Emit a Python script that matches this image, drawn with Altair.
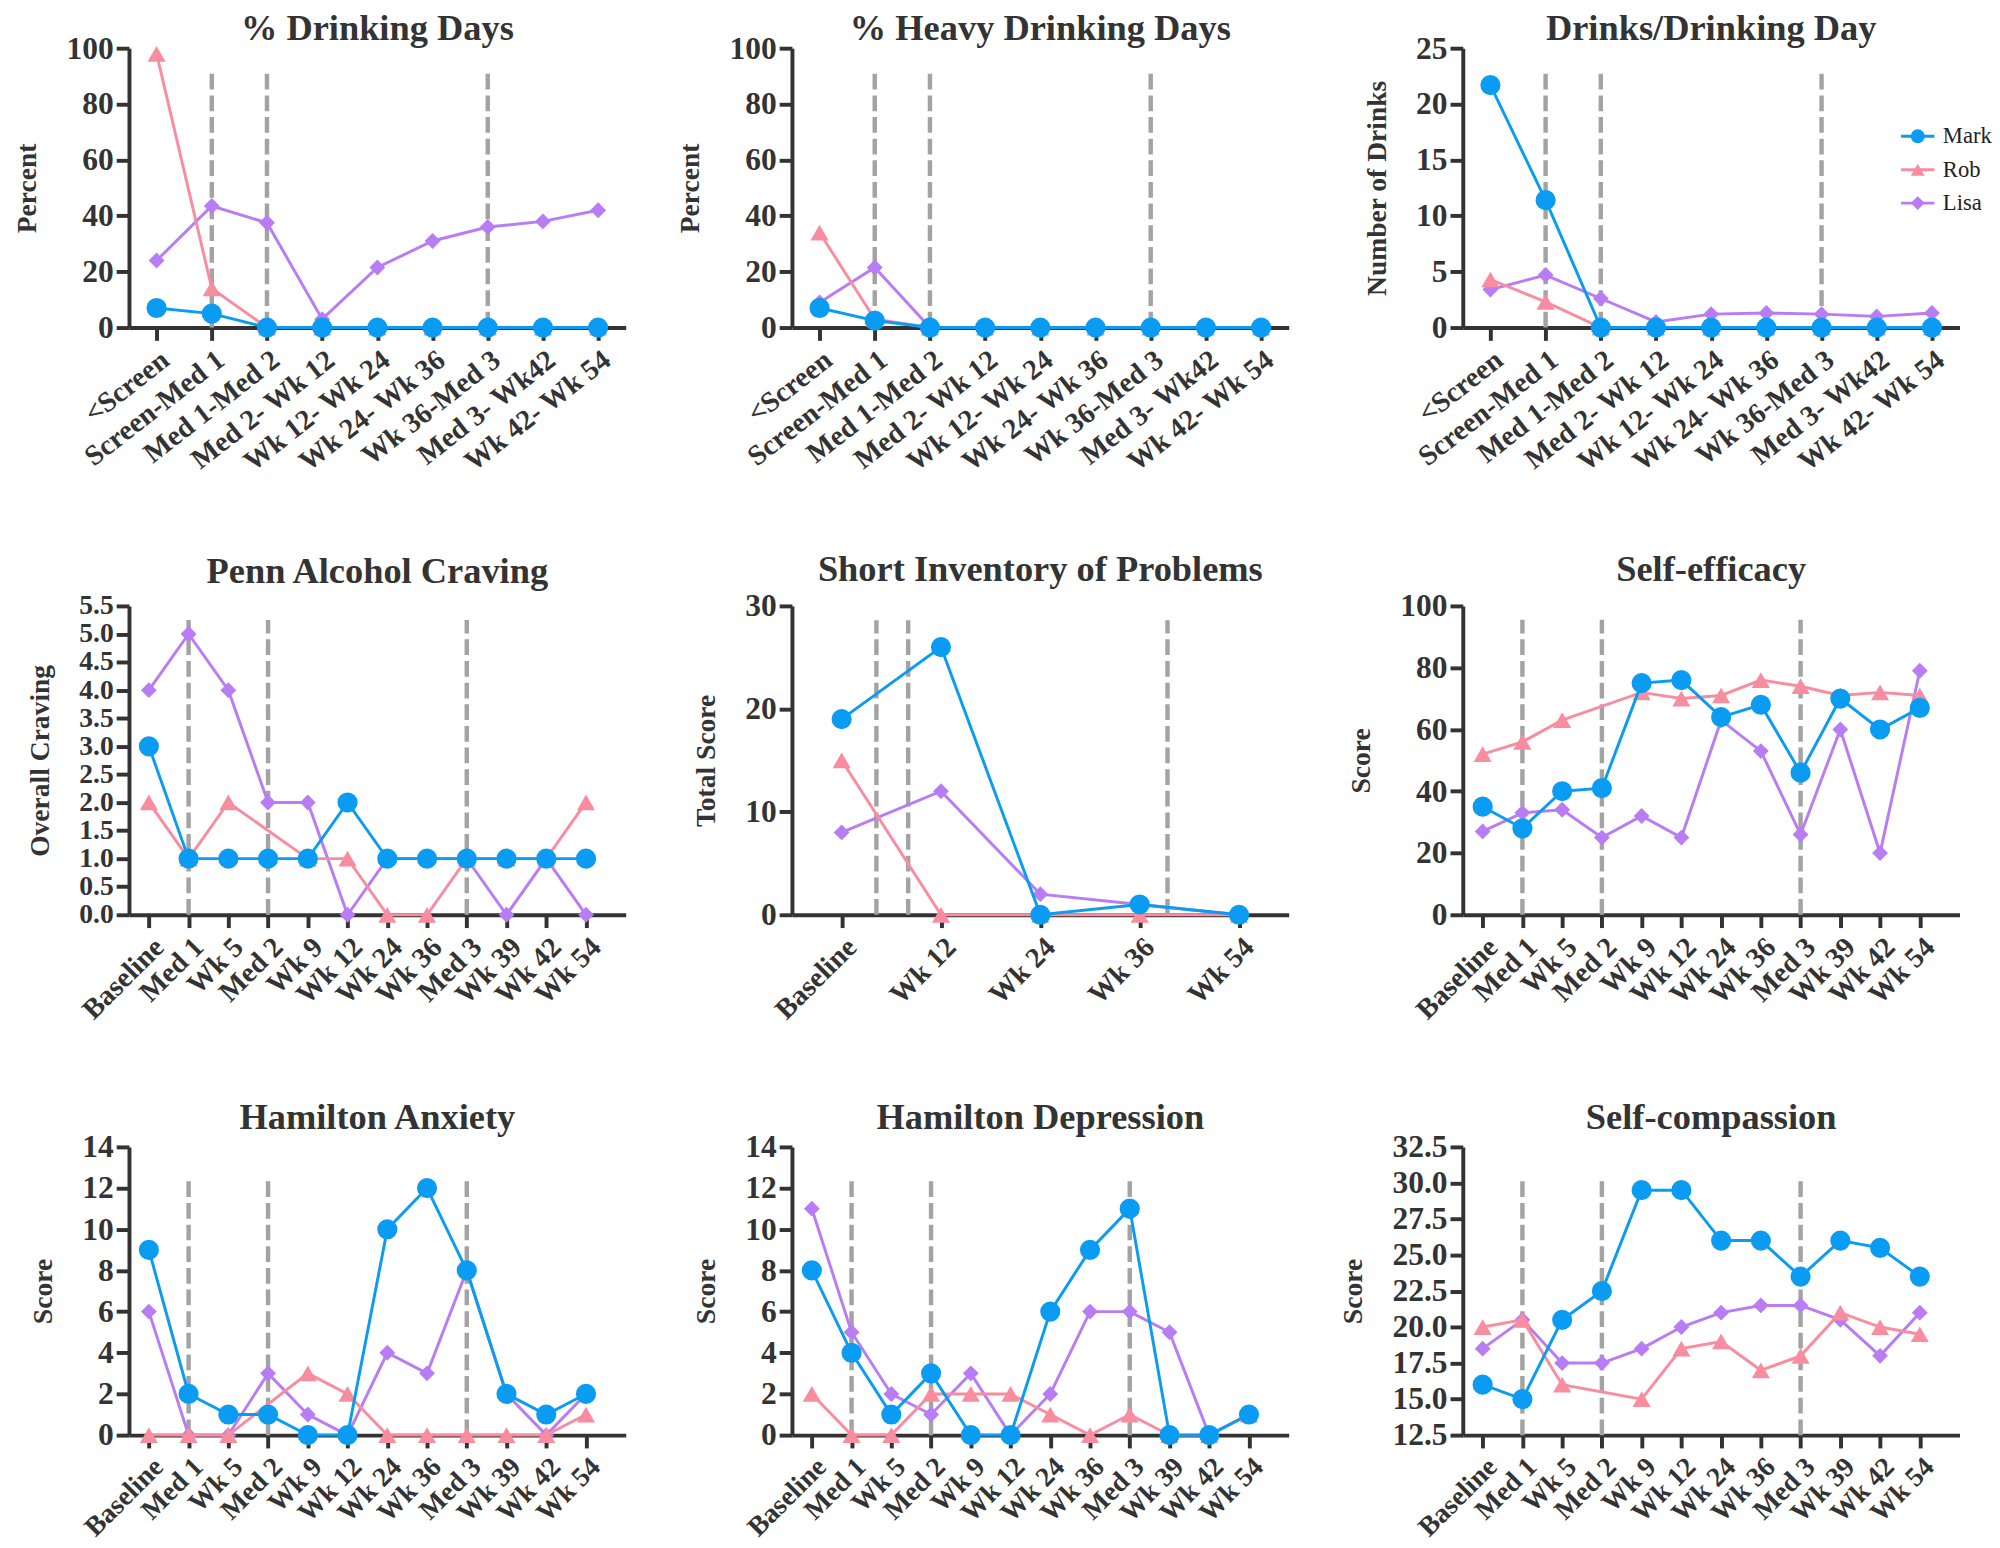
import altair as alt
import pandas as pd

FONT = "Liberation Serif"
TXT = "#333333"
DASH = "#a3a3a3"

names = ["Mark", "Rob", "Lisa"]
line_keys = ["Mark ", "Rob ", "Lisa "]
colors = ["#0a9cf2", "#f98da0", "#b87cf4"]
shapes = ["circle", "triangle-up", "diamond"]
sizes = [420, 340, 260]

cats_drink = ["<Screen", "Screen-Med 1", "Med 1-Med 2", "Med 2- Wk 12", "Wk 12- Wk 24",
              "Wk 24- Wk 36", "Wk 36-Med 3", "Med 3- Wk42", "Wk 42- Wk 54"]
cats_visit = ["Baseline", "Med 1", "Wk 5", "Med 2", "Wk 9", "Wk 12", "Wk 24", "Wk 36",
              "Med 3", "Wk 39", "Wk 42", "Wk 54"]
cats_sip = ["Baseline", "Wk 12", "Wk 24", "Wk 36", "Wk 54"]

# % Drinking Days
pdd_mark = [7, 5, 0, 0, 0, 0, 0, 0, 0]
pdd_rob = [98, 14, 0, 0, 0, 0, 0, 0, 0]
pdd_lisa = [24, 43.5, 37.5, 3, 21.5, 31, 36, 38, 42]
# % Heavy Drinking Days
phdd_mark = [7, 2.5, 0, 0, 0, 0, 0, 0, 0]
phdd_rob = [34, 3, 0, 0, 0, 0, 0, 0, 0]
phdd_lisa = [9, 21.5, 0, 0, 0, 0, 0, 0, 0]
# Drinks / Drinking Day
ddd_mark = [21.7, 11.4, 0, 0, 0, 0, 0, 0, 0]
ddd_rob = [4.3, 2.3, 0, 0, 0, 0, 0, 0, 0]
ddd_lisa = [3.4, 4.7, 2.6, 0.5, 1.2, 1.3, 1.2, 1.0, 1.3]
# Penn Alcohol Craving
pacs_mark = [3, 1, 1, 1, 1, 2, 1, 1, 1, 1, 1, 1]
pacs_rob = [2, 1, 2, None, 1, 1, 0, 0, 1, 1, 1, 2]
pacs_lisa = [4, 5, 4, 2, 2, 0, 1, 1, 1, 0, 1, 0]
# Short Inventory of Problems
sip_mark = [19, 26, 0, 1, 0]
sip_rob = [15, 0, 0, 0, 0]
sip_lisa = [8, 12, 2, 1, 0]
# Self-efficacy
se_mark = [35, 28, 40, 41, 75, 76, 64, 68, 46, 70, 60, 67]
se_rob = [52, 56, 63, None, 72, 70, 71, 76, 74, 71, 72, 71]
se_lisa = [27, 33, 34, 25, 32, 25, 63, 53, 26, 60, 20, 79]
# Hamilton Anxiety
hama_mark = [9, 2, 1, 1, 0, 0, 10, 12, 8, 2, 1, 2]
hama_rob = [0, 0, 0, None, 3, 2, 0, 0, 0, 0, 0, 1]
hama_lisa = [6, 0, 0, 3, 1, 0, 4, 3, 8, 2, 0, 2]
# Hamilton Depression
hamd_mark = [8, 4, 1, 3, 0, 0, 6, 9, 11, 0, 0, 1]
hamd_rob = [2, 0, 0, 2, 2, 2, 1, 0, 1, 0, 0, 1]
hamd_lisa = [11, 5, 2, 1, 3, 0, 2, 6, 6, 5, 0, 1]
# Self-compassion
sc_mark = [16, 15, 20.5, 22.5, 29.5, 29.5, 26, 26, 23.5, 26, 25.5, 23.5]
sc_rob = [20, 20.5, 16, None, 15, 18.5, 19, 17, 18, 21, 20, 19.5]
sc_lisa = [18.5, 20.5, 17.5, 17.5, 18.5, 20, 21, 21.5, 21.5, 20.5, 18, 21]

# medication markers (x positions)
dash_drink = [1, 2, 6]
dash_visit = [1, 3, 8]
dash_sip = [0.35, 0.67, 3.28]

LEG_X, LEG_Y = 451, 78
leg_common = dict(title=None, orient="none", legendX=LEG_X, legendY=LEG_Y,
                  labelFont=FONT, labelFontSize=23, labelColor="#222222",
                  labelFontWeight="normal", symbolSize=200, labelOffset=14,
                  rowPadding=10, padding=0)
legend_pts = alt.Legend(symbolStrokeWidth=0, symbolOpacity=1, **leg_common)
legend_line = alt.Legend(symbolType="M-2.4,0L2.4,0", symbolStrokeWidth=3,
                         labelOpacity=0, **leg_common)


def panel(title, cats, series, ytitle, ydom, ystep, yfmt, xdom, dash_x, dash_top,
          angle, xfs, height, toff, yfs=32, legend=False):
    rows = []
    for k, (name, vals) in enumerate(zip(names, series)):
        for i, v in enumerate(vals):
            if v is not None:
                rows.append({"x": i, "y": v, "who": name, "wl": line_keys[k]})
    df = pd.DataFrame(rows)
    ddf = pd.DataFrame({"x": dash_x, "y0": [ydom[0]] * len(dash_x),
                        "y1": [dash_top] * len(dash_x)})
    nt = int(round((ydom[1] - ydom[0]) / ystep))
    yvals = [round(ydom[0] + k * ystep, 3) for k in range(nt + 1)]
    lab_js = "[" + ",".join("'%s'" % c for c in cats) + "]"

    xscale = alt.Scale(domain=xdom, nice=False, zero=False)
    yscale = alt.Scale(domain=ydom, nice=False, zero=False)
    xax = alt.Axis(values=list(range(len(cats))), tickCount=len(cats) + 2,
                   labelExpr=lab_js + "[datum.value]", labelFontSize=xfs,
                   labelAngle=angle, labelAlign="right", labelBaseline="top",
                   labelOverlap=False, labelFlush=False, labelPadding=5, title=None)
    yax = alt.Axis(values=yvals, tickCount=len(yvals) + 2, format=yfmt,
                   labelOverlap=False, labelFlush=False, labelFontSize=yfs,
                   title=ytitle, titlePadding=25, labelPadding=3)

    base = alt.Chart(df)
    layers = [
        alt.Chart(ddf).mark_rule(color=DASH, strokeWidth=4.5, strokeDash=[16, 6]).encode(
            x=alt.X("x:Q", scale=xscale, axis=xax),
            y=alt.Y("y0:Q", scale=yscale, axis=yax),
            y2="y1:Q",
        )
    ]
    for idx in [2, 1, 0]:
        nm = names[idx]
        sub = base.transform_filter(alt.datum.who == nm)
        layers.append(sub.mark_line(strokeWidth=3).encode(
            x="x:Q", y="y:Q",
            stroke=alt.Stroke("wl:N", scale=alt.Scale(domain=line_keys, range=colors),
                              legend=legend_line if legend else None)))
        layers.append(sub.mark_point(size=sizes[idx], filled=True,
                                     opacity=1, strokeWidth=0).encode(
            x="x:Q", y="y:Q",
            color=alt.Color("who:N", scale=alt.Scale(domain=names, range=colors),
                            legend=legend_pts if legend else None),
            shape=alt.Shape("who:N", scale=alt.Scale(domain=names, range=shapes),
                            legend=legend_pts if legend else None)))
    return alt.layer(*layers).properties(
        width=505, height=height,
        title=alt.TitleParams(title, font=FONT, fontSize=37, fontWeight="bold", color=TXT,
                              anchor="middle", frame="group", offset=toff),
    )


XD9 = [-0.5, 8.5]
XD12 = [-0.5, 12]
XD5 = [-0.5, 4.5]
H1, H2, H3 = 284, 314, 293
T1, T2, T3 = -16, 1, -6

p1 = panel("% Drinking Days", cats_drink, [pdd_mark, pdd_rob, pdd_lisa], "Percent",
           [0, 100], 20, "d", XD9, dash_drink, 92, -38, 29, H1, T1)
p2 = panel("% Heavy Drinking Days", cats_drink, [phdd_mark, phdd_rob, phdd_lisa], "Percent",
           [0, 100], 20, "d", XD9, dash_drink, 92, -38, 29, H1, T1)
p3 = panel("Drinks/Drinking Day", cats_drink, [ddd_mark, ddd_rob, ddd_lisa], "Number of Drinks",
           [0, 25], 5, "d", XD9, dash_drink, 23, -38, 29, H1, T1, legend=True)
p4 = panel("Penn Alcohol Craving", cats_visit, [pacs_mark, pacs_rob, pacs_lisa], "Overall Craving",
           [0, 5.5], 0.5, ".1f", XD12, dash_visit, 5.25, -45, 29, H2, T2, yfs=28)
p5 = panel("Short Inventory of Problems", cats_sip, [sip_mark, sip_rob, sip_lisa], "Total Score",
           [0, 30], 10, "d", XD5, dash_sip, 28.6, -45, 29, H2, T2)
p6 = panel("Self-efficacy", cats_visit, [se_mark, se_rob, se_lisa], "Score",
           [0, 100], 20, "d", XD12, dash_visit, 95.5, -45, 29, H2, T2)
p7 = panel("Hamilton Anxiety", cats_visit, [hama_mark, hama_rob, hama_lisa], "Score",
           [0, 14], 2, "d", XD12, dash_visit, 12.5, -45, 28, H3, T3)
p8 = panel("Hamilton Depression", cats_visit, [hamd_mark, hamd_rob, hamd_lisa], "Score",
           [0, 14], 2, "d", XD12, dash_visit, 12.5, -45, 28, H3, T3)
p9 = panel("Self-compassion", cats_visit, [sc_mark, sc_rob, sc_lisa], "Score",
           [12.5, 32.5], 2.5, ".1f", XD12, dash_visit, 30.3, -45, 28, H3, T3)

chart = alt.concat(p1, p2, p3, p4, p5, p6, p7, p8, p9, columns=3,
                   spacing={"row": 76, "column": 52}).resolve_legend(
    color="independent", shape="independent", stroke="independent"
).configure_view(stroke=None).configure_axis(
    grid=False, domainColor=TXT, domainWidth=4, tickColor=TXT, tickWidth=4, tickSize=13,
    labelFont=FONT, labelFontWeight="bold", labelFontSize=32, labelColor=TXT,
    titleFont=FONT, titleFontWeight="bold", titleFontSize=28, titleColor=TXT,
).properties(background="white", padding={"left": 6, "top": -10, "right": 0, "bottom": 0})

chart.save("out.html", embed_options={"renderer": "svg", "actions": False})
